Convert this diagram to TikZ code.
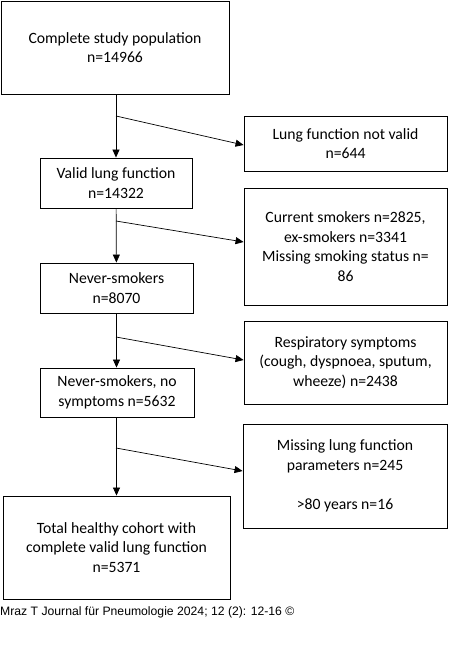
\documentclass[tikz,border=0pt]{standalone}
\usepackage{fontspec}
\setmainfont{Carlito}
\newfontfamily\footfont{Liberation Sans}
\usetikzlibrary{arrows.meta}

\begin{document}
\begin{tikzpicture}[x=1pt, y=-1pt, >={Triangle[length=8pt,width=7pt]},
  box/.style={draw, line width=0.9pt, align=center, inner sep=0pt,
    font=\fontsize{15.7}{19.5}\selectfont},
  flow/.style={->, line width=0.7pt}]
  \useasboundingbox (0,0) rectangle (448,661);

  % main column
  \node[box, minimum width=228pt, minimum height=93pt] (pop) at (115,47.5)
    {Complete study population\\n=14966};
  \node[box, minimum width=152pt, minimum height=50pt] (valid) at (116,183)
    {Valid lung function\\n=14322};
  \node[box, minimum width=153pt, minimum height=50pt] (never) at (116.5,288)
    {Never-smokers\\n=8070};
  \node[box, minimum width=154pt, minimum height=49pt] (nosym) at (117,392.5)
    {Never-smokers, no\\symptoms n=5632};
  \node[box, minimum width=227pt, minimum height=103pt] (cohort) at (116.5,547.5)
    {Total healthy cohort with\\complete valid lung function\\n=5371};

  % exclusions
  \node[box, minimum width=203pt, minimum height=55pt] (notvalid) at (345.5,143.5)
    {Lung function not valid\\n=644};
  \node[box, minimum width=203pt, minimum height=117pt] (smokers) at (345.5,246.5)
    {Current smokers n=2825,\\ex-smokers n=3341\\Missing smoking status n=\\86};
  \node[box, minimum width=203pt, minimum height=83pt] (sympt) at (345.5,362.5)
    {Respiratory symptoms\\(cough, dyspnoea, sputum,\\wheeze) n=2438};
  \node[box, minimum width=204pt, minimum height=104pt] (missing) at (345,476)
    {Missing lung function\\parameters n=245\\[19.5pt]>80 years n=16};

  % branch points on the trunk
  \coordinate (s1) at (116,116);
  \coordinate (s2) at (116,221);
  \coordinate (s3) at (116,337);
  \coordinate (s4) at (116,448);

  \draw[flow] (valid.north |- pop.south) -- (valid.north);
  \draw[flow] (valid) -- (never);
  \draw[flow] (never) -- (nosym.north -| never);
  \draw[flow] (nosym.south -| never) -- (cohort.north -| never);

  \draw[flow] (s1) -- ([yshift=-1.5pt]notvalid.west);
  \draw[flow] (s2) -- ([yshift=4.5pt]smokers.west);
  \draw[flow] (s3) -- ([yshift=2.5pt]sympt.west);
  \draw[flow] (s4) -- ([yshift=5pt]missing.west);

  \node[anchor=west, inner sep=0pt, font=\footfont\fontsize{12.2}{14}\selectfont] (src) at (0,612)
    {Mraz T Journal für Pneumologie 2024; 12 (2): 12-16 ©};
\end{tikzpicture}
\end{document}
